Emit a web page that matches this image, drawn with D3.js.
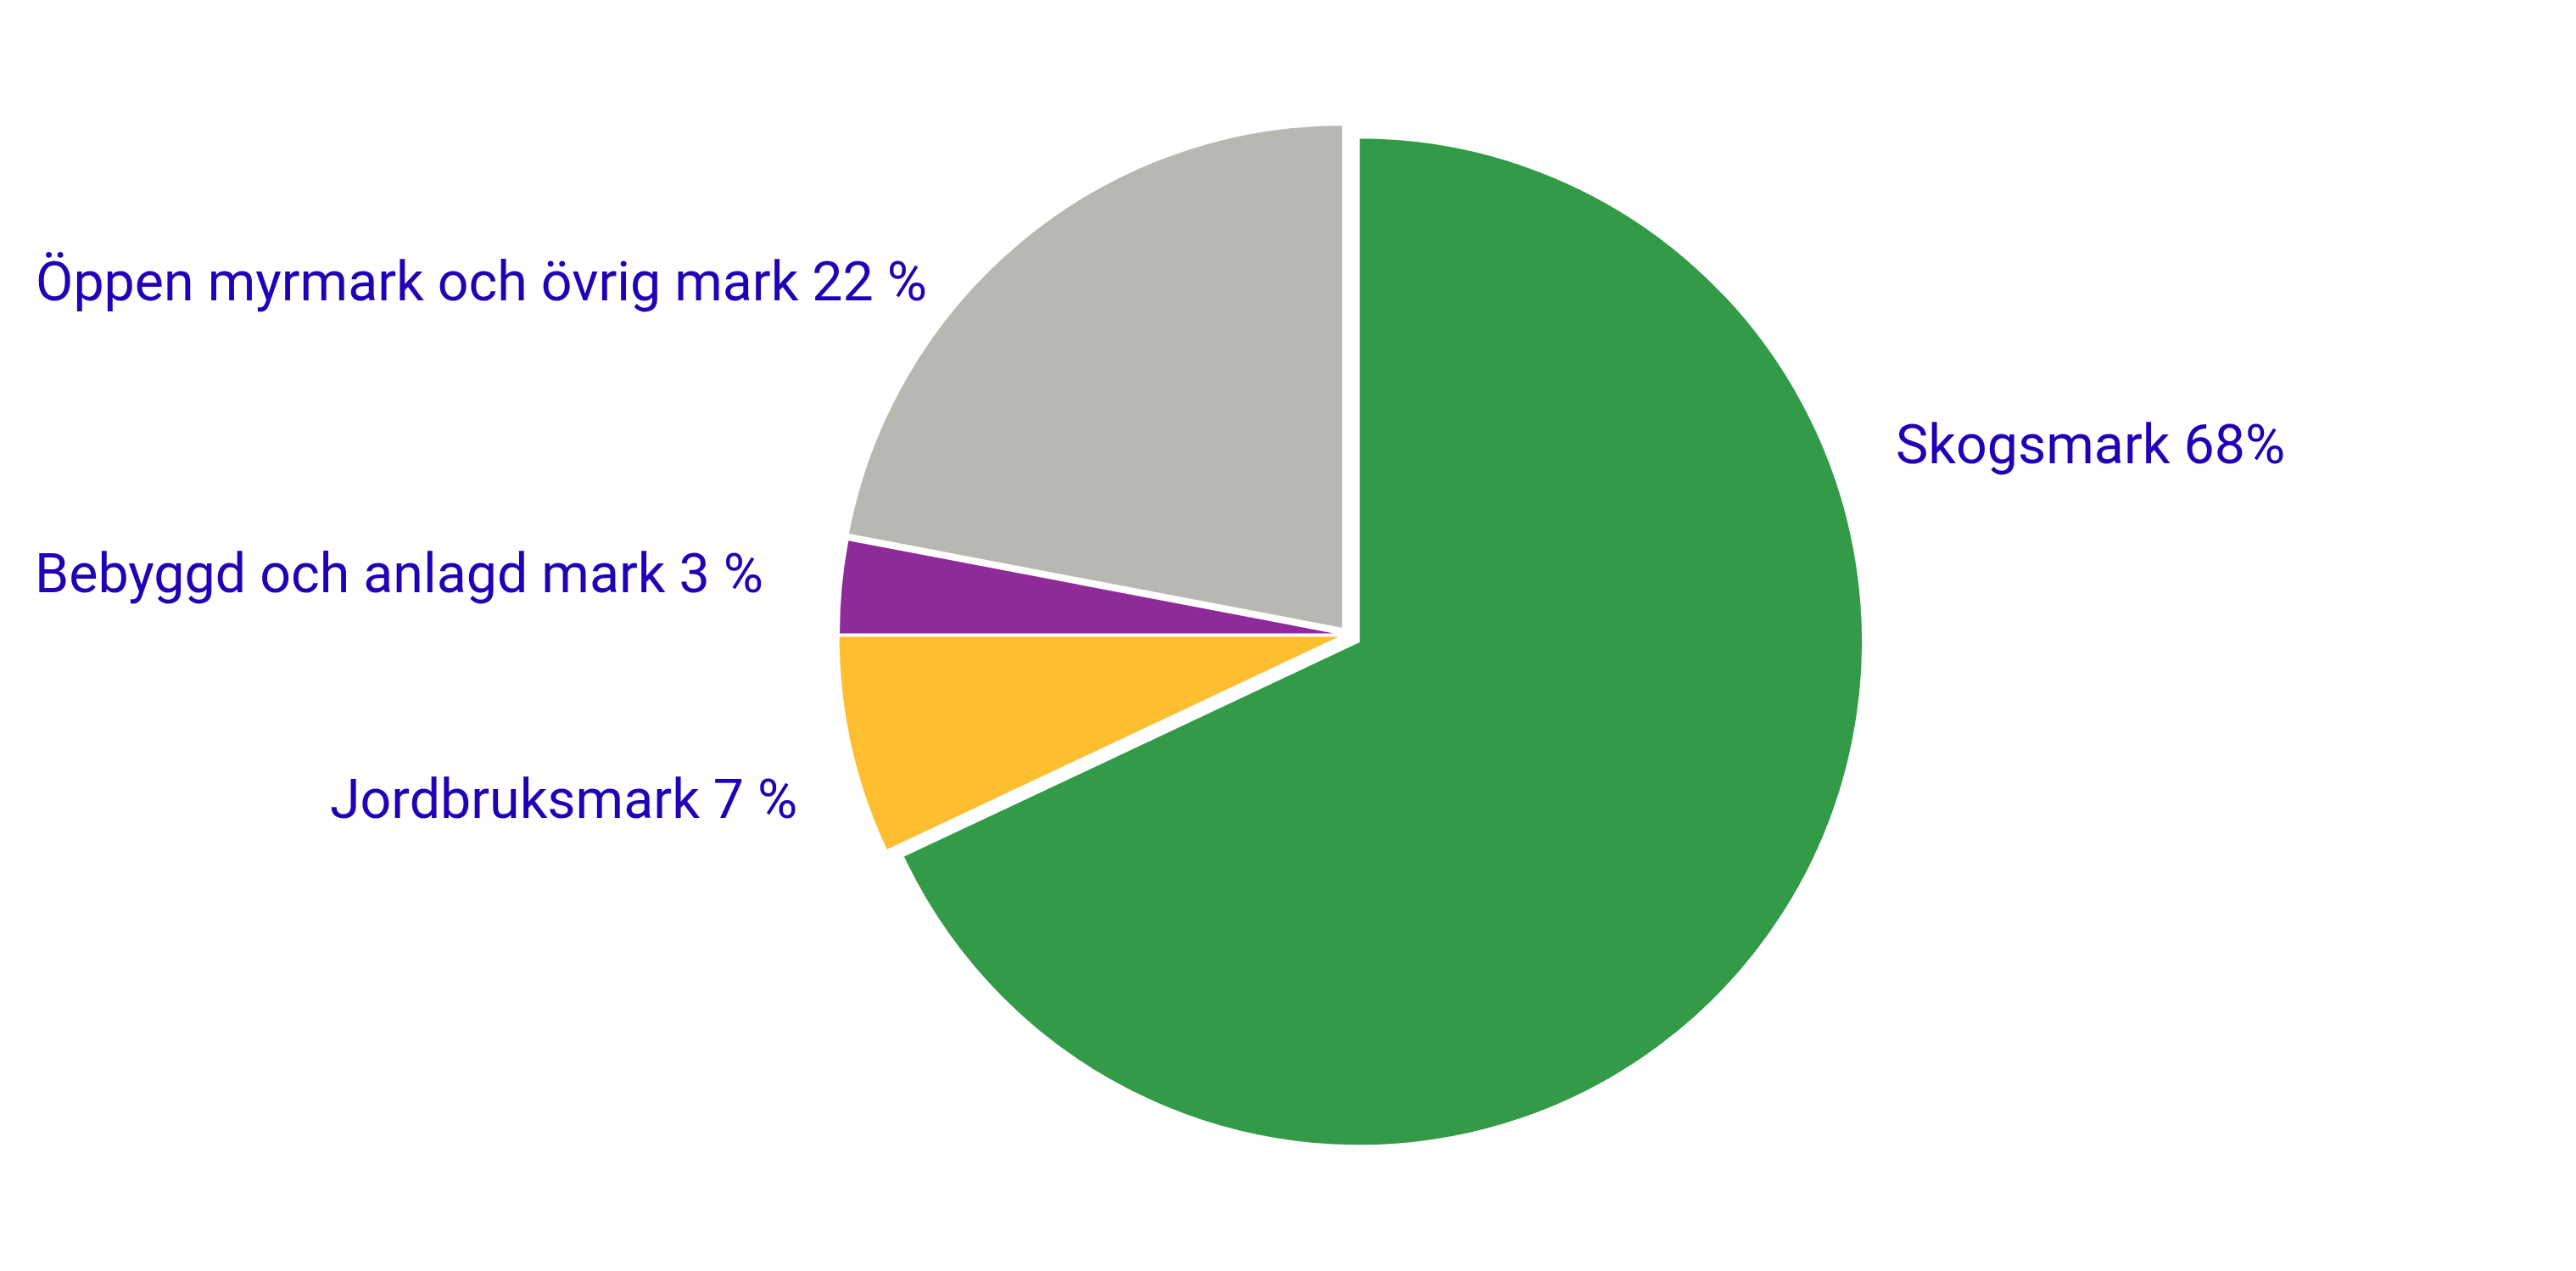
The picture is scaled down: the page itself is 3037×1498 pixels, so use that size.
<!DOCTYPE html>
<html>
<head>
<meta charset="utf-8">
<script src="https://cdn.jsdelivr.net/npm/d3@7"></script>
<style>
  html, body { margin: 0; padding: 0; background: #ffffff; }
  svg { display: block; }
  text { font-family: Roboto, "Noto Sans", sans-serif; }
</style>
</head>
<body>
<svg id="chart" width="3037" height="1498"></svg>
<script>
// ---- data ----
const categories = ["Skogsmark", "Jordbruksmark", "Bebyggd och anlagd mark", "Öppen myrmark och övrig mark"];
const values = [68, 7, 3, 22];
const labelTexts = ["Skogsmark 68%", "Jordbruksmark 7 %", "Bebyggd och anlagd mark 3 %", "Öppen myrmark och övrig mark 22 %"];

// ---- styling / layout ----
const colors = ["#339b48", "#febe30", "#8f2a9b", "#b7b8b2"];
const explode = [15.5, 6.5, 6, 9];
const labelPos = [[2235, 546], [389, 964], [41, 698], [42, 354]];
const W = 3037, H = 1498;
const cx = 1589, cy = 748, R = 594;
const textColor = "#2200b8";
const fontSize = 64.5;

const svg = d3.select("#chart");
svg.append("rect").attr("width", W).attr("height", H).attr("fill", "#fff");

const pie = d3.pie().sort(null).startAngle(0).endAngle(2 * Math.PI).value(d => d.value);
const data = categories.map((c, i) => ({ name: c, value: values[i], i }));
const arcs = pie(data);
const arc = d3.arc().innerRadius(0).outerRadius(R);

const g = svg.append("g").attr("transform", `translate(${cx},${cy})`);
g.selectAll("path.slice")
  .data(arcs)
  .join("path")
  .attr("class", "slice")
  .attr("d", arc)
  .attr("fill", d => colors[d.data.i])
  .attr("stroke", "#ffffff")
  .attr("stroke-width", 2)
  .attr("stroke-linejoin", "miter")
  .attr("transform", d => {
    const a = (d.startAngle + d.endAngle) / 2;
    const e = explode[d.data.i];
    return `translate(${e * Math.sin(a)},${-e * Math.cos(a)})`;
  });

svg.selectAll("text.label")
  .data(arcs)
  .join("text")
  .attr("class", "label")
  .attr("x", d => labelPos[d.data.i][0])
  .attr("y", d => labelPos[d.data.i][1])
  .attr("fill", textColor)
  .attr("font-size", fontSize)
  .text(d => labelTexts[d.data.i]);
</script>
</body>
</html>
